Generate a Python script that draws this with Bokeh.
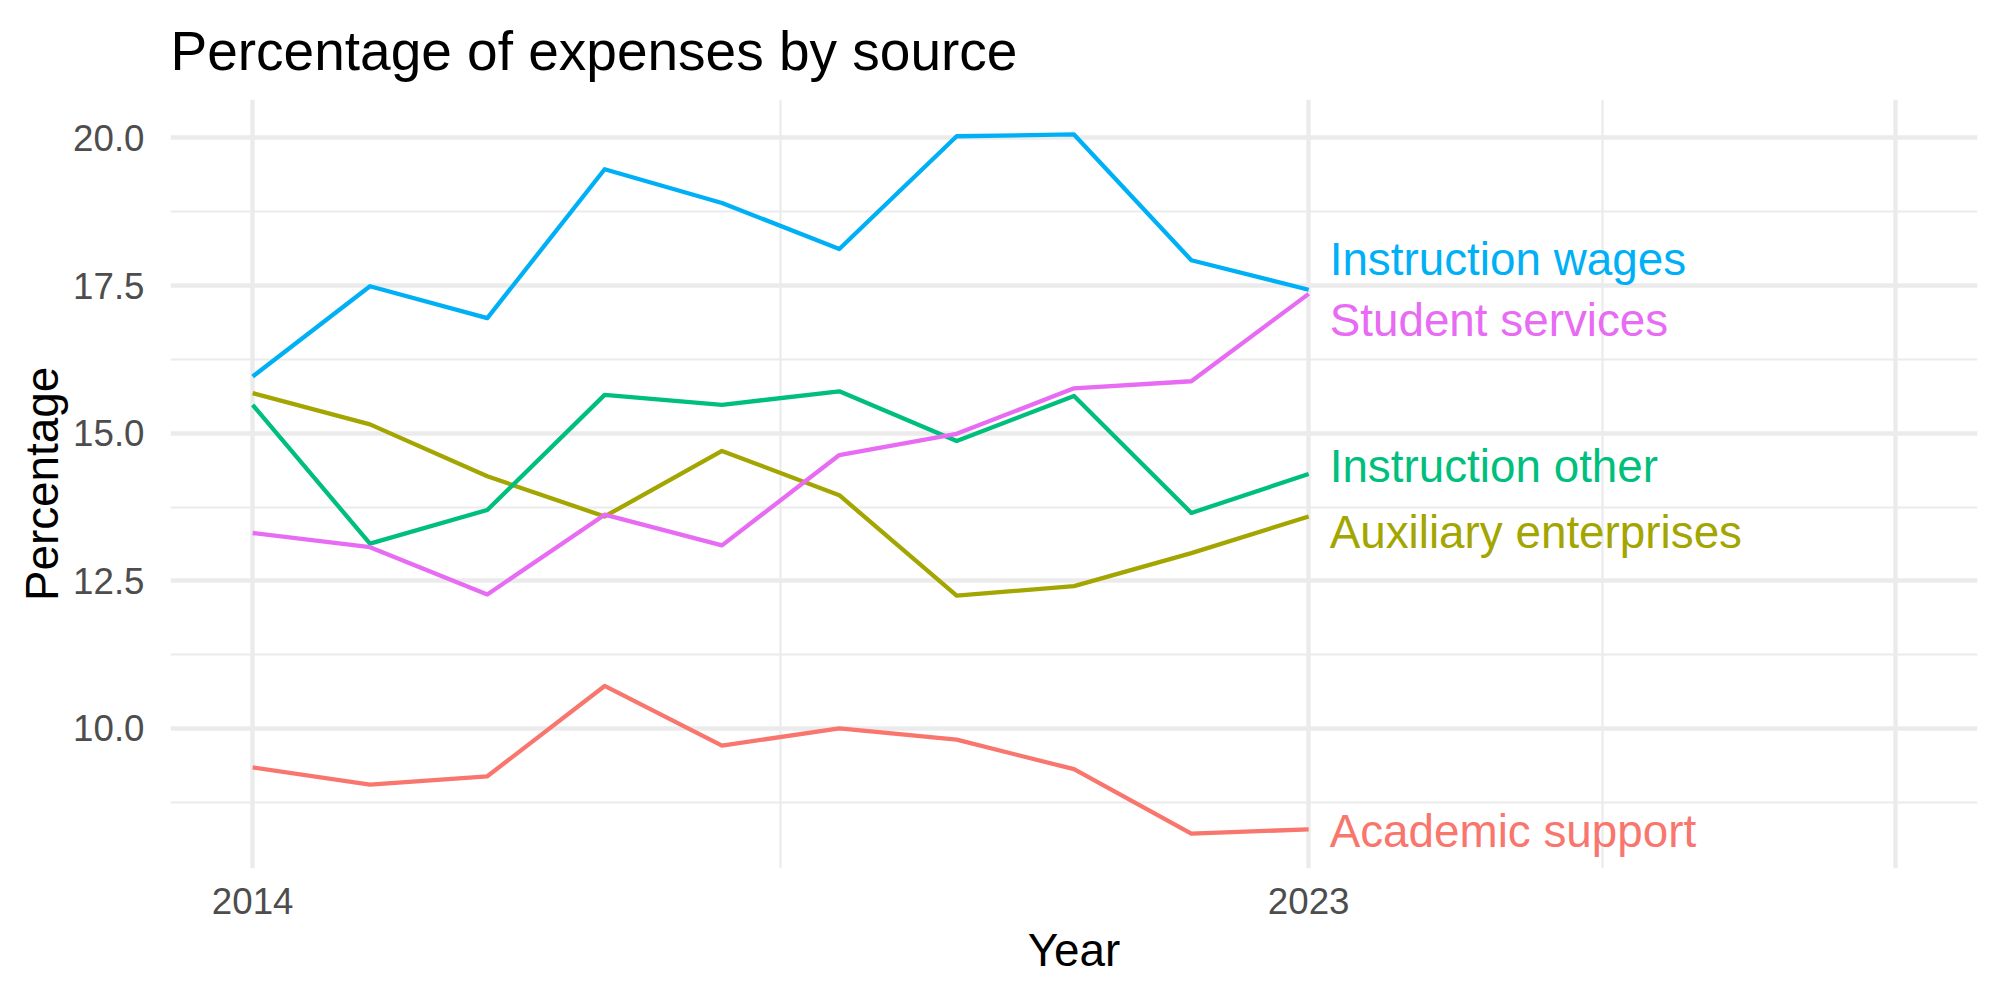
from bokeh.plotting import figure
from bokeh.models import Range1d, FixedTicker, Title
from bokeh.core.properties import value
from bokeh.embed import file_html
from bokeh.resources import INLINE

years = [2014, 2015, 2016, 2017, 2018, 2019, 2020, 2021, 2022, 2023]
academic_support = [9.34, 9.05, 9.19, 10.72, 9.71, 10.00, 9.81, 9.31, 8.22, 8.29]
auxiliary_enterprises = [15.68, 15.15, 14.27, 13.59, 14.70, 13.95, 12.25, 12.41, 12.97, 13.59]
instruction_other = [15.48, 13.13, 13.70, 15.65, 15.48, 15.71, 14.87, 15.63, 13.65, 14.31]
instruction_wages = [15.96, 17.49, 16.95, 19.47, 18.90, 18.12, 20.03, 20.06, 17.93, 17.43]
student_services = [13.31, 13.07, 12.27, 13.62, 13.10, 14.63, 14.99, 15.76, 15.88, 17.36]

series_names = ["Academic support", "Auxiliary enterprises", "Instruction other",
                "Instruction wages", "Student services"]
series_values = [academic_support, auxiliary_enterprises, instruction_other,
                 instruction_wages, student_services]
series_colors = ["#F8766D", "#A3A500", "#00BF7D", "#00B0F6", "#E76BF3"]
# label positions (repelled)
label_y = [8.25, 13.32, 14.43, 17.95, 16.91]

y_ticks = [10.0, 12.5, 15.0, 17.5, 20.0]
y_tick_labels = ["10.0", "12.5", "15.0", "17.5", "20.0"]
y_minor = [8.75, 11.25, 13.75, 16.25, 18.75]
x_ticks = [2014, 2023, 2028]
x_tick_labels = ["2014", "2023", ""]
x_minor = [2018.5, 2025.5]

FONT = "Liberation Sans"

p = figure(width=2000, height=1000, output_backend="svg", toolbar_location=None,
           x_range=Range1d(2013.3, 2028.7), y_range=Range1d(7.628, 20.652),
           min_border_left=170, min_border_right=23, min_border_top=98,
           min_border_bottom=132)
p.background_fill_color = "white"
p.border_fill_color = "white"
p.outline_line_color = None

p.title = Title(text="Percentage of expenses by source", text_font=FONT,
                text_font_size="55px", text_font_style="normal", text_color="black",
                align="left", standoff=35)

for g in (p.xgrid, p.ygrid):
    g.grid_line_color = "#EBEBEB"
    g.grid_line_width = 4.4
    g.minor_grid_line_color = "#EBEBEB"
    g.minor_grid_line_width = 2.2

p.xaxis.ticker = FixedTicker(ticks=x_ticks, minor_ticks=x_minor)
p.yaxis.ticker = FixedTicker(ticks=y_ticks, minor_ticks=y_minor)
p.xaxis.major_label_overrides = {t: l for t, l in zip(x_ticks, x_tick_labels)}
p.yaxis.major_label_overrides = {t: l for t, l in zip(y_ticks, y_tick_labels)}

for ax in (p.xaxis, p.yaxis):
    ax.axis_line_color = None
    ax.major_tick_line_color = None
    ax.minor_tick_line_color = None
    ax.major_tick_out = 0
    ax.major_tick_in = 0
    ax.major_label_text_font = FONT
    ax.major_label_text_font_size = "36.7px"
    ax.major_label_text_color = "#4D4D4D"
    ax.axis_label_text_font = FONT
    ax.axis_label_text_font_size = "45.8px"
    ax.axis_label_text_font_style = "normal"
    ax.axis_label_text_color = "black"

p.xaxis.axis_label = "Year"
p.yaxis.axis_label = "Percentage"
p.xaxis.major_label_standoff = 15
p.yaxis.major_label_standoff = 22
p.xaxis.axis_label_standoff = 8
p.yaxis.axis_label_standoff = 2

for name, vals, col, ly in zip(series_names, series_values, series_colors, label_y):
    p.line(years, vals, line_color=col, line_width=4.3, line_join="round")
    p.text(x=[years[-1]], y=[ly], text=[name], text_color=col,
           text_font=value(FONT), text_font_size="45.8px",
           text_baseline="middle", text_align="left", x_offset=21)

open("out.html", "w").write(file_html(p, INLINE))
